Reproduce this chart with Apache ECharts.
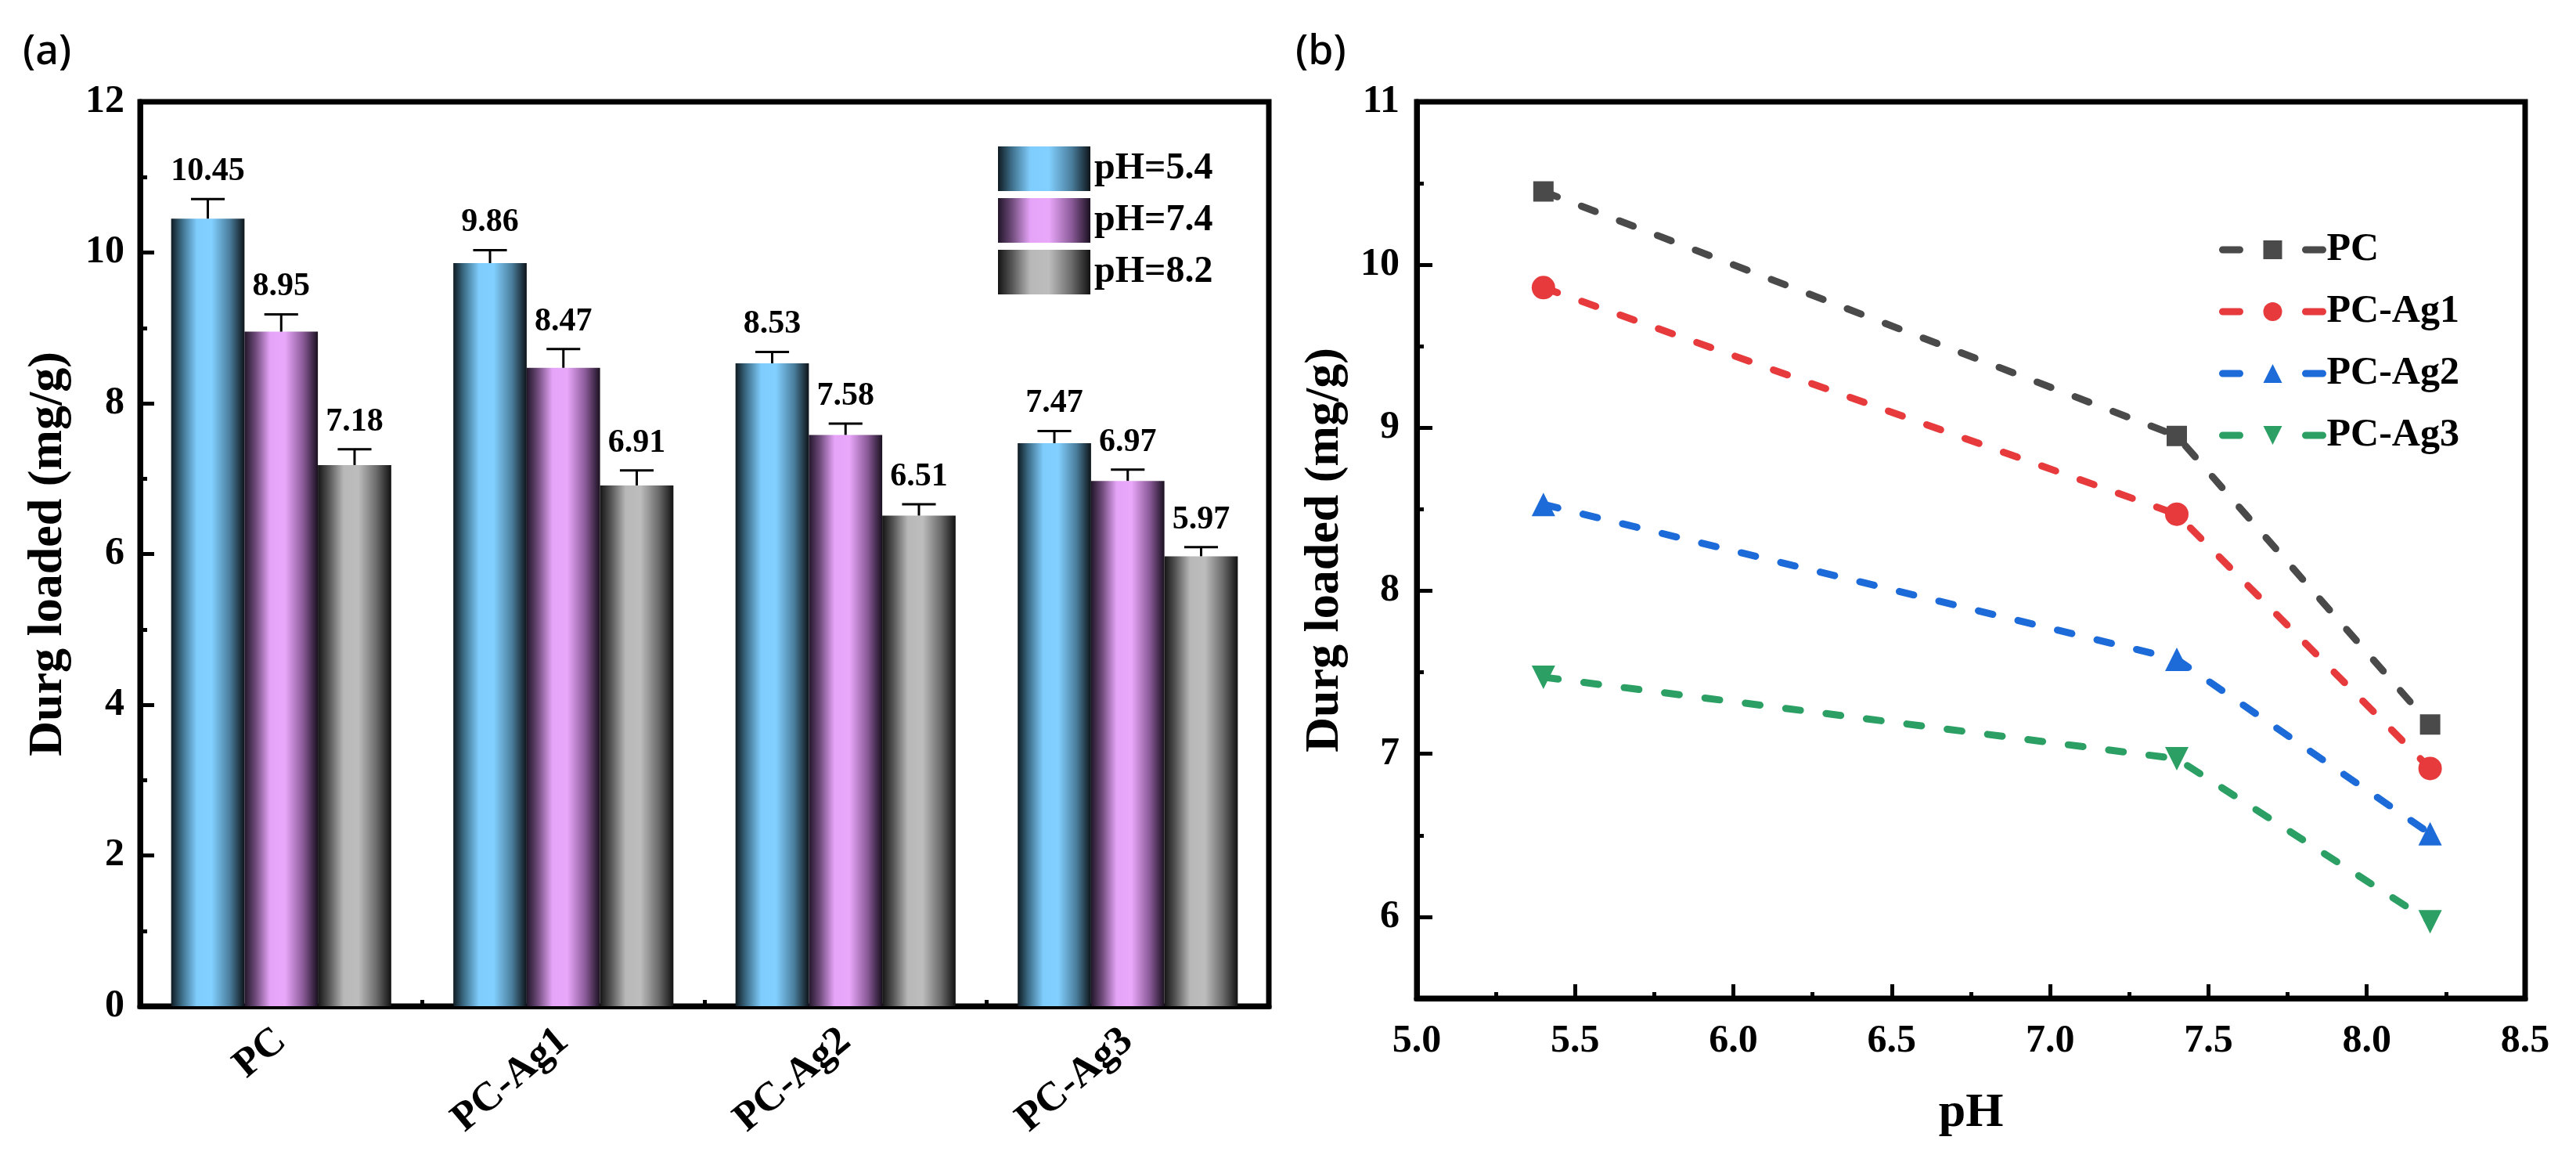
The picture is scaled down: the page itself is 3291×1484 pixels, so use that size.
<!DOCTYPE html>
<html lang="en">
<head>
  <meta charset="UTF-8">
  <title>Drug loaded vs pH</title>
  <script src="https://cdn.jsdelivr.net/npm/echarts@6/dist/echarts.min.js"></script>
  <style>
    body { margin: 0; background: #fff; }
    #chart { width: 3291px; height: 1484px; }
  </style>
</head>
<body>
<div id="chart"></div>
<script>
  // ---- data ----
  var samples = ['PC', 'PC-Ag1', 'PC-Ag2', 'PC-Ag3'];
  var phLabels = ['pH=5.4', 'pH=7.4', 'pH=8.2'];
  var phValues = [5.4, 7.4, 8.2];
  var load54 = [10.45, 9.86, 8.53, 7.47];
  var load74 = [8.95, 8.47, 7.58, 6.97];
  var load82 = [7.18, 6.91, 6.51, 5.97];
  var err54 = [0.26, 0.17, 0.15, 0.16];
  var err74 = [0.23, 0.25, 0.15, 0.15];
  var err82 = [0.21, 0.20, 0.15, 0.12];
  var yTicksB = [6, 7, 8, 9, 10, 11];
  var yMinorB = [6.5, 7.5, 8.5, 9.5, 10.5];

  var FONT = '"Liberation Serif", "Times New Roman", serif';
  var BAR_FRAC = 0.26;
  var lineColors = ['#4a4a4a', '#e63a3c', '#1c6bd8', '#2ca064'];
  var symbols = ['rect', 'circle', 'triangle', 'triangle'];

  function grad(stops) {
    return new echarts.graphic.LinearGradient(0, 0, 1, 0,
      stops.map(function (c, i) { return { offset: [0, 0.15, 0.35, 0.55, 0.8, 1][i], color: c }; }));
  }
  var barFills = [
    grad(['#0f1b22', '#3e6f8a', '#7fcdfd', '#82d0ff', '#4a7d9c', '#0d1419']),
    grad(['#22162a', '#6e4a7a', '#e6a4f8', '#eaa8fb', '#8a5a98', '#1a1020']),
    grad(['#151515', '#555555', '#b8b8b8', '#bdbdbd', '#6a6a6a', '#111111'])
  ];
  var loads = [load54, load74, load82];
  var errs = [err54, err74, err82];

  // error bar + value label, offset to the k-th bar of the group
  function errorBars(k) {
    return function (params, api) {
      var i = api.value(0), v = api.value(1), e = api.value(2);
      var bw = api.size([1, 0])[0] * BAR_FRAC;
      var x = api.coord([i, v])[0] + (k - 1) * bw;
      var yv = api.coord([i, v])[1];
      var ye = api.coord([i, v + e])[1];
      var half = bw * 0.23;
      var st = { stroke: '#000', lineWidth: 3 };
      return {
        type: 'group',
        children: [
          { type: 'line', shape: { x1: x, y1: yv, x2: x, y2: ye }, style: st },
          { type: 'line', shape: { x1: x - half, y1: ye, x2: x + half, y2: ye }, style: st },
          { type: 'text', style: { text: v.toFixed(2), x: x, y: ye - 14, align: 'center', verticalAlign: 'bottom',
              fontFamily: FONT, fontWeight: 'bold', fontSize: 42, fill: '#000' } }
        ]
      };
    };
  }

  var series = [];
  phLabels.forEach(function (name, k) {
    series.push({
      name: name, type: 'bar', xAxisIndex: 0, yAxisIndex: 0,
      barWidth: (BAR_FRAC * 100) + '%', barGap: '0%',
      itemStyle: { color: barFills[k] },
      data: loads[k]
    });
  });
  phLabels.forEach(function (name, k) {
    series.push({
      name: 'err' + k, type: 'custom', xAxisIndex: 0, yAxisIndex: 0, z: 5,
      renderItem: errorBars(k),
      encode: { x: 0, y: 1 },
      data: samples.map(function (s, i) { return [i, loads[k][i], errs[k][i]]; })
    });
  });
  samples.forEach(function (name, j) {
    series.push({
      name: name, type: 'line', xAxisIndex: 2, yAxisIndex: 1,
      symbol: symbols[j], symbolSize: j === 0 ? 26 : 30, symbolRotate: j === 3 ? 180 : 0,
      itemStyle: { color: lineColors[j] },
      lineStyle: { color: lineColors[j], width: 9, type: [19, 33], cap: 'round' },
      data: phValues.map(function (p, m) { return [p, loads[m][j]]; })
    });
  });

  var boldText = { fontFamily: FONT, fontWeight: 'bold', color: '#000' };
  function ax(extra) {
    var base = {
      axisLine: { show: true, onZero: false, lineStyle: { color: '#000', width: 7 } },
      axisTick: { show: true, inside: true, length: 18, lineStyle: { color: '#000', width: 5 } },
      splitLine: { show: false },
      nameTextStyle: Object.assign({ fontSize: 62 }, boldText)
    };
    return Object.assign(base, extra);
  }

  var chart = echarts.init(document.getElementById('chart'));
  chart.setOption({
    animation: false,
    backgroundColor: '#fff',
    title: [
      { text: '(a)', left: 24, top: 36, textStyle: { fontFamily: 'Noto Sans', fontWeight: 500, fontSize: 52, color: '#000' } },
      { text: '(b)', left: 1650, top: 36, textStyle: { fontFamily: 'Noto Sans', fontWeight: 500, fontSize: 52, color: '#000' } }
    ],
    grid: [
      { left: 179, right: 1670, top: 130, bottom: 199, show: true, borderColor: '#000', borderWidth: 7, containLabel: false },
      { left: 1810, right: 65, top: 130, bottom: 209, show: true, borderColor: '#000', borderWidth: 7, containLabel: false }
    ],
    legend: [
      {
        data: phLabels, orient: 'vertical', left: 1270, top: 182,
        itemWidth: 118, itemHeight: 57, itemGap: 9, icon: 'rect',
        textStyle: Object.assign({ fontSize: 48 }, boldText)
      },
      {
        data: samples, orient: 'vertical', left: 2830, top: 289,
        itemWidth: 128, itemHeight: 30, itemGap: 29,
        lineStyle: { width: 9, type: [22, 84], cap: 'round' },
        textStyle: Object.assign({ fontSize: 50 }, boldText)
      }
    ],
    xAxis: [
      ax({
        type: 'category', gridIndex: 0, position: 'bottom', data: samples,
        axisTick: { show: true, inside: true, alignWithLabel: true, length: 18, lineStyle: { color: '#000', width: 5 } },
        axisLabel: Object.assign({ fontSize: 52, rotate: 40, margin: 38 }, boldText)
      }),
      {
        type: 'category', gridIndex: 0, position: 'bottom', data: samples,
        axisLine: { show: false },
        axisLabel: { show: false },
        axisTick: { show: true, inside: true, length: 8, lineStyle: { color: '#000', width: 5 } },
        splitLine: { show: false }
      },
      ax({
        type: 'value', gridIndex: 1, position: 'bottom', min: 5, max: 8.5, interval: 0.5,
        name: 'pH', nameLocation: 'middle', nameGap: 116,
        minorTick: { show: true, splitNumber: 2, length: 8, lineStyle: { color: '#000', width: 5 } },
        axisLabel: Object.assign({ fontSize: 50, margin: 30, formatter: function (v) { return v.toFixed(1); } }, boldText)
      })
    ],
    yAxis: [
      ax({
        type: 'value', gridIndex: 0, position: 'left', min: 0, max: 12, interval: 2,
        name: 'Durg loaded (mg/g)', nameLocation: 'middle', nameGap: 86,
        minorTick: { show: true, splitNumber: 2, length: 9, lineStyle: { color: '#000', width: 5 } },
        axisLabel: Object.assign({ fontSize: 50, margin: 20 }, boldText)
      }),
      ax({
        type: 'value', gridIndex: 1, position: 'left', min: 5.5, max: 11,
        name: 'Durg loaded (mg/g)', nameLocation: 'middle', nameGap: 86,
        axisTick: { show: true, inside: true, length: 20, customValues: yTicksB, lineStyle: { color: '#000', width: 5 } },
        axisLabel: Object.assign({ fontSize: 50, margin: 22, customValues: yTicksB }, boldText)
      }),
      {
        type: 'value', gridIndex: 1, position: 'left', min: 5.5, max: 11,
        axisLine: { show: false },
        axisLabel: { show: false },
        axisTick: { show: true, inside: true, length: 9, customValues: yMinorB, lineStyle: { color: '#000', width: 5 } },
        splitLine: { show: false }
      }
    ],
    series: series
  });
</script>
</body>
</html>
